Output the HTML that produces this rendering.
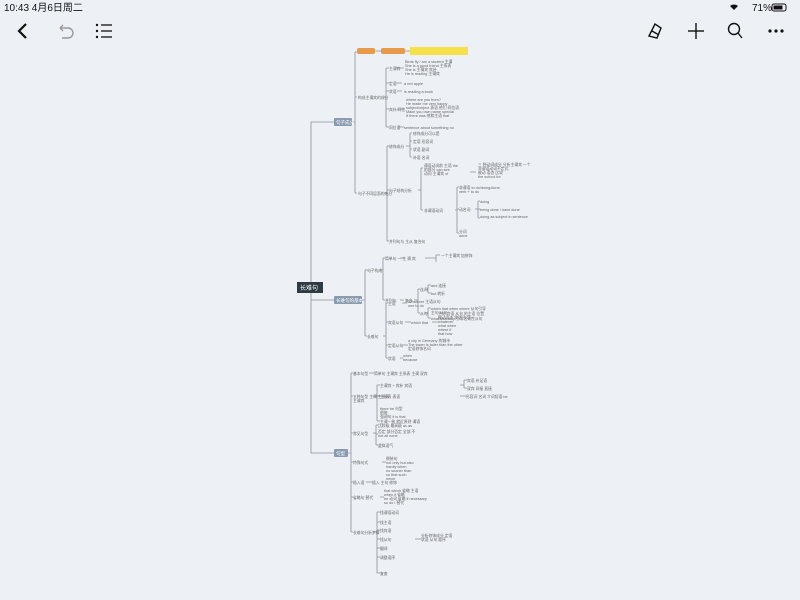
<!DOCTYPE html>
<html><head><meta charset="utf-8"><style>
html,body{margin:0;padding:0;width:800px;height:600px;overflow:hidden;background:#edf0f5;font-family:"Liberation Sans","Noto Sans CJK SC",sans-serif}
svg{position:absolute;left:0;top:0}
</style></head><body>
<svg width="800" height="600" viewBox="0 0 800 600" xmlns="http://www.w3.org/2000/svg" font-family="Liberation Sans, Noto Sans CJK SC, sans-serif">
<rect width="800" height="600" fill="#edf0f5"/>
<!-- status bar -->
<text x="4" y="11" font-size="10" fill="#111">10:43  4月6日周二</text>
<text x="752" y="11" font-size="10" fill="#111">71%</text>
<path d="M730 6 l4 4 l4 -4 a6 6 0 0 0 -8 0z" fill="#111"/>
<rect x="772" y="4" width="14" height="7" rx="2" fill="none" stroke="#111" stroke-width="1"/>
<rect x="773.5" y="5.5" width="9" height="4" fill="#111"/>
<!-- toolbar -->
<path d="M26 24 l-7 7 l7 7" fill="none" stroke="#111" stroke-width="2.2"/>
<path d="M60 28 h8 a5 5 0 0 1 0 10 h-6 M60 28 l3 -3 M60 28 l3 3" fill="none" stroke="#999" stroke-width="1.4"/>
<g fill="#111"><circle cx="97" cy="25" r="1.2"/><circle cx="97" cy="31" r="1.2"/><circle cx="97" cy="37" r="1.2"/></g>
<g stroke="#111" stroke-width="1.3"><line x1="101" y1="25" x2="112" y2="25"/><line x1="101" y1="31" x2="112" y2="31"/><line x1="101" y1="37" x2="112" y2="37"/></g>
<path d="M649 36 l6 -12 l6 4 l-4 10 z M652 31 l7 4" fill="none" stroke="#111" stroke-width="1.4"/>
<g stroke="#111" stroke-width="1.4"><line x1="696" y1="23" x2="696" y2="39"/><line x1="688" y1="31" x2="704" y2="31"/></g>
<circle cx="734" cy="29" r="5.5" fill="none" stroke="#111" stroke-width="1.4"/><line x1="738" y1="33" x2="742" y2="38" stroke="#111" stroke-width="1.4"/>
<g fill="#111"><circle cx="770" cy="31" r="1.6"/><circle cx="776" cy="31" r="1.6"/><circle cx="782" cy="31" r="1.6"/></g>

<g stroke="#8d939b" stroke-width="0.8" fill="none">
<!-- trunk -->
<path d="M311 282 V122 H334 M311 293 V453 H334 M311 293 V300 H334"/>
<!-- branch1 -->
<path d="M352 122 H355 M355 52 V193 M355 52 H357 M355 97 H357 M355 193 H357"/>
<path d="M375 51 H381 M405 51 H410"/>
<path d="M384 97 H386 M386 68 V127 M386 68 H389 M386 83 H389 M386 91 H389 M386 109 H389 M386 127 H389"/>
<path d="M396 68 H404 M396 83 H402 M397 91 H402 M398 109 H404 M398 127 H404"/>
<path d="M384 193 H387 M387 146 V241 M387 146 H389 M387 190 H389 M387 241 H389"/>
<path d="M406 146 H410 M410 133 V157 M410 133 H412 M410 141 H412 M410 149 H412 M410 157 H412"/>
<path d="M418 190 H421 M421 168 V210 M421 168 H423 M421 210 H423"/>
<path d="M470 172 H476 M455 210 H457 M457 187 V233 M457 187 H459 M457 209 H459 M457 233 H459"/>
<path d="M475 209 H478 M478 201 V218 M478 201 H480 M478 209 H480 M478 218 H480"/>
<!-- branch2 -->
<path d="M362 300 H365 M365 270 V336 M365 270 H367 M365 336 H367"/>
<path d="M380 270 H383 M383 258 V300 M383 258 H385 M383 300 H385"/>
<path d="M400 258 H404 M425 258 H436 M436 255 V262 M436 255 H440"/>
<path d="M400 300 H404 M414 300 H418 M418 289 V313 M418 289 H420 M418 313 H420 M425 289 H428 M428 285 V293 M428 285 H431 M428 293 H431 M425 313 H428 M428 308 V318 M428 308 H431 M428 318 H431"/>
<path d="M383 336 H386 M386 303 V358 M386 303 H388 M386 322 H388 M386 345 H388 M386 358 H388"/>
<path d="M402 303 H407 M405 322 H411 M432 322 H438 M403 345 H408 M400 358 H403"/>
<!-- branch3 -->
<path d="M348 453 H351 M351 373 V532 M351 373 H353 M351 396 H353 M351 433 H353 M351 462 H353 M351 482 H353 M351 497 H353 M351 532 H353"/>
<path d="M369 373 H374 M373 396 H377 M377 385 V421 M377 385 H380 M377 396 H380 M377 421 H380"/>
<path d="M460 385 H464 M464 380 V388 M464 380 H467 M464 388 H467 M460 396 H466"/>
<path d="M373 433 H376 M376 425 V445 M376 425 H378 M376 434 H378 M376 445 H378"/>
<path d="M382 462 H386 M366 482 H372 M380 497 H384"/>
<path d="M373 532 H377 M377 512 V573 M377 512 H380 M377 522 H380 M377 530 H380 M377 539 H380 M377 548 H380 M377 557 H380 M377 573 H380 M415 539 H421"/>
</g>

<!-- nodes -->
<rect x="297" y="282" width="26" height="11" fill="#2f3a42"/>
<text x="300" y="290" font-size="6" fill="#fff">长难句</text>
<rect x="334" y="118" width="18" height="8" rx="1" fill="#8a9bb0"/><text x="336" y="124" font-size="4.5" fill="#fff">句子成分</text>
<rect x="334" y="296" width="28" height="8" rx="1" fill="#8a9bb0"/><text x="336" y="302" font-size="4.5" fill="#fff">长难句的基本</text>
<rect x="334" y="449" width="14" height="8" rx="1" fill="#8a9bb0"/><text x="336" y="455" font-size="4.5" fill="#fff">句型</text>
<rect x="357" y="48" width="18" height="6" rx="2" fill="#e69a4a"/>
<rect x="381" y="48" width="24" height="6" rx="2" fill="#e69a4a"/>
<rect x="410" y="47" width="58" height="8" fill="#f7e14a"/>

<g font-size="3.8" fill="#666">
<text x="358" y="99">构成主谓宾的成分</text>
<text x="358" y="195">句子不同层面的成分</text>
<text x="389" y="70">主谓宾</text>
<text x="405" y="63">Birds fly / am a student 主谓</text><text x="405" y="67">She is a good friend 主系表</text><text x="405" y="71">She is 主谓宾 宾补</text><text x="405" y="75">He is reading 主谓宾</text>
<text x="389" y="85">定语</text><text x="404" y="85">a red apple</text>
<text x="389" y="93">状语</text><text x="404" y="93">is reading a book</text>
<text x="389" y="111">宾补/同位</text>
<text x="406" y="101">where are you from?</text><text x="406" y="105">He made me very happy</text><text x="406" y="109">subject/object 表语 他们 同位语</text><text x="406" y="113">Make you own name special</text><text x="406" y="117">If there was 他和主语 that</text>
<text x="389" y="129">同位语</text><text x="404" y="129">sentence about something no</text>
<text x="389" y="148">修饰成分</text>
<text x="413" y="135">修饰成分可以是</text><text x="413" y="143">定语 形容词</text><text x="413" y="151">状语 副词</text><text x="413" y="159">补语 名词</text>
<text x="389" y="192">句子结构分析</text>
<text x="424" y="167">谓语动词前 主语 the</text><text x="424" y="171">的部分 can see</text><text x="424" y="175">动词 主谓宾 of</text>
<text x="478" y="166">三 种动词成分 分析主谓宾 一个</text><text x="478" y="170">非谓语动词不定式</text><text x="478" y="174">被动 语态 比较</text><text x="478" y="178">the school for</text>
<text x="424" y="212">非谓语动词</text>
<text x="459" y="189">非谓语 to do/doing/done</text><text x="459" y="193">verb + to do</text>
<text x="459" y="211">动名词</text><text x="480" y="203">doing</text><text x="480" y="211">being done / have done</text><text x="480" y="218">doing as subject in sentence</text>
<text x="459" y="233">分词</text><text x="459" y="237">done</text>
<text x="389" y="243">并列句与 主从 复合句</text>
<text x="367" y="272">句子构成</text>
<text x="385" y="260">简单句 一 主 谓 宾</text><text x="441" y="257">一个主谓宾 加修饰</text>
<text x="385" y="302">并列句</text><text x="405" y="302">复合</text>
<text x="420" y="291">连词</text><text x="431" y="287">and 连接</text><text x="431" y="295">but 转折</text>
<text x="420" y="315">从句</text><text x="431" y="310">which that when where 从句引导</text><text x="431" y="314">主句 从句</text><text x="431" y="320">what how why 引导名词性从句</text>
<text x="367" y="338">长难句</text>
<text x="388" y="305">主语</text><text x="408" y="303">Whatever 主语从句</text><text x="408" y="307">one to do</text>
<text x="388" y="324">宾语从句</text><text x="411" y="324">which that</text>
<text x="438" y="315">主句 宾语 从句 的主语 位置</text><text x="438" y="319">被动语态 状语 引导</text><text x="438" y="323">whatever</text><text x="438" y="327">what when</text><text x="438" y="331">where if</text><text x="438" y="335">that how</text>
<text x="388" y="347">定语从句</text><text x="408" y="342">a city in Germany 的城市</text><text x="408" y="346">The tower is taller than the other</text><text x="408" y="350">定语修饰名词</text>
<text x="388" y="360">状语</text><text x="403" y="357">when</text><text x="403" y="361">because</text>
<text x="353" y="375">基本句型</text><text x="374" y="375">简单句 主谓宾 主系表 主谓 双宾</text>
<text x="353" y="398">五种句型 主谓 主系表</text><text x="353" y="402">主谓宾</text>
<text x="380" y="387">主谓宾 + 宾补 宾语</text><text x="467" y="382">宾语 补足语</text><text x="467" y="390">双宾 间接 直接</text>
<text x="380" y="398">主系表 表语</text><text x="466" y="398">形容词 名词 介词短语 be</text>
<text x="380" y="410">there be 句型</text><text x="380" y="414">倒装</text><text x="380" y="418">强调句 it is that</text><text x="380" y="423">主谓一致 就近原则 谓语</text>
<text x="353" y="435">常见句型</text><text x="378" y="427">比较级 最高级 as as</text><text x="378" y="433">否定 部分否定 全部 不</text><text x="378" y="437">not all none</text><text x="378" y="447">虚拟语气</text>
<text x="353" y="464">特殊句式</text><text x="386" y="460">倒装句</text><text x="386" y="464">not only but also</text><text x="386" y="468">hardly when</text><text x="386" y="472">no sooner than</text><text x="386" y="476">so that such</text><text x="386" y="480">never</text>
<text x="353" y="484">插入语</text><text x="372" y="484">插入 主句 修饰</text>
<text x="353" y="499">省略句 替代</text><text x="384" y="492">that which 省略 主语</text><text x="384" y="496">when if 省略</text><text x="384" y="500">be 动词 省略 if necessary</text><text x="384" y="504">so do I 替代</text>
<text x="353" y="534">长难句分析步骤</text>
<text x="380" y="514">找谓语动词</text><text x="380" y="524">找主语</text><text x="380" y="532">找宾语</text><text x="380" y="541">找从句</text><text x="421" y="537">分析修饰成分 定语</text><text x="421" y="541">状语 从句 顺序</text><text x="380" y="550">翻译</text><text x="380" y="559">调整语序</text><text x="380" y="575">复查</text>
</g>
</svg>
</body></html>
